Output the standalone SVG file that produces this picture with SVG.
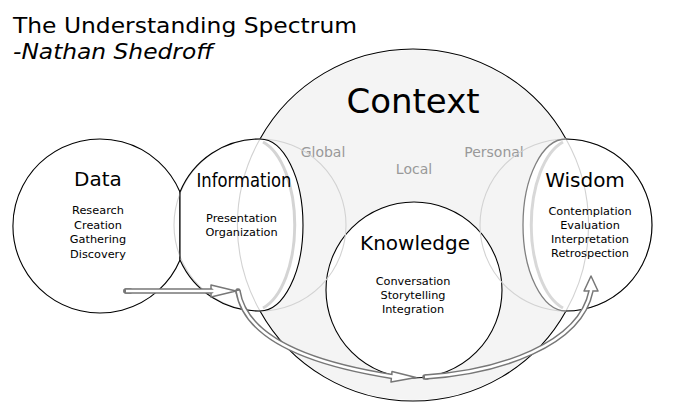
<svg xmlns="http://www.w3.org/2000/svg" width="676" height="412" viewBox="0 0 676 412">
<style>
text{font-family:"DejaVu Sans","Liberation Sans",sans-serif;fill:#000}
.title{font-size:22px}
.big{font-size:34px;text-anchor:middle}
.node{font-size:20px;text-anchor:middle}
.sub{font-size:11.3px;text-anchor:middle}
.scope{font-size:14px;text-anchor:middle;fill:#999}
.dark{fill:none;stroke:#000;stroke-width:1.1}
.faint{fill:none;stroke:#d2d2d2;stroke-width:1.1}
.white{fill:#fff;stroke:none}
.shaftO{fill:none;stroke:#777;stroke-width:5.5;stroke-linecap:round}
.shaftI{fill:none;stroke:#fff;stroke-width:2.5}
.head{fill:#fff;stroke:#777;stroke-width:1.5;stroke-linejoin:round}
</style>
<g id="title">
<text class="title" x="13" y="33" textLength="344" lengthAdjust="spacingAndGlyphs">The Understanding Spectrum</text>
<text class="title" x="13" y="59" font-style="italic" textLength="200" lengthAdjust="spacingAndGlyphs">-Nathan Shedroff</text>
</g>
<g id="context">
<circle cx="413" cy="225" r="175" fill="#f4f4f4"/>
<path class="dark" d="M260,139 A175,175 0 0 1 566,139"/>
<path class="dark" d="M566,311 A175,175 0 0 1 260,311"/>
<text class="big" x="413" y="113">Context</text>
<text class="scope" x="323" y="157">Global</text>
<text class="scope" x="414" y="174">Local</text>
<text class="scope" x="494" y="157">Personal</text>
</g>
<g id="knowledge">
<circle cx="414" cy="290" r="88" class="white"/>
<circle cx="414" cy="290" r="88" class="dark"/>
<text class="node" x="415" y="250" font-size="20.5">Knowledge</text>
<text class="sub" x="413" y="285">Conversation</text>
<text class="sub" x="413" y="299">Storytelling</text>
<text class="sub" x="413" y="313">Integration</text>
</g>
<g id="data">
<path class="white" d="M180,192 A87,87 0 1 0 180,260 Z"/>
<path class="dark" d="M180,192 A87,87 0 1 0 180,260 Z"/>
<text class="node" x="98" y="186">Data</text>
<text class="sub" x="98" y="214">Research</text>
<text class="sub" x="98" y="229">Creation</text>
<text class="sub" x="98" y="243">Gathering</text>
<text class="sub" x="98" y="258">Discovery</text>
</g>
<g id="information">
<path class="white" d="M180,192 A86,86 0 0 1 260,139 A43,86 0 0 1 260,311 A86,86 0 0 1 180,260 Z"/>
<circle class="faint" cx="260" cy="225" r="86"/>
<path class="faint" d="M260,139 A175,175 0 0 0 260,311"/>
<path d="M261,142 A43,86 0 0 1 261,308" fill="none" stroke="#d4d4d4" stroke-width="3" transform="translate(2,0)"/>
<path class="dark" d="M180,192 A86,86 0 0 1 260,139 A43,86 0 0 1 260,311 A86,86 0 0 1 180,260 Z"/>
<text class="node" x="244" y="187" textLength="95" lengthAdjust="spacingAndGlyphs" font-size="19">Information</text>
<text class="sub" x="241.5" y="222">Presentation</text>
<text class="sub" x="241.5" y="236">Organization</text>
</g>
<g id="wisdom">
<path class="white" d="M566,139 A86,86 0 0 1 566,311 A43,86 0 0 1 566,139 Z"/>
<circle class="faint" cx="566" cy="225" r="86"/>
<path class="faint" d="M566,139 A175,175 0 0 1 566,311"/>
<path d="M565,142 A43,86 0 0 0 565,308" fill="none" stroke="#d8d8d8" stroke-width="3" transform="translate(-2,0)"/>
<path class="dark" d="M566,139 A86,86 0 0 1 566,311"/>
<path d="M566,311 A43,86 0 0 1 566,139" fill="none" stroke="#808080" stroke-width="1.3"/>
<text class="node" x="585" y="187" font-size="21">Wisdom</text>
<text class="sub" x="590" y="215">Contemplation</text>
<text class="sub" x="590" y="229">Evaluation</text>
<text class="sub" x="590" y="243">Interpretation</text>
<text class="sub" x="590" y="257">Retrospection</text>
</g>
<g id="connectors">
<polygon class="head" points="211,285 236,291 211,297"/>
<path class="shaftO" d="M126,291 L211,291" stroke-linecap="butt"/>
<path class="shaftO" d="M126,291 L130,291"/>
<path class="shaftI" d="M126,291 L214,291"/>
<polygon class="head" points="392,371.5 416,377.5 391,382"/>
<path class="shaftO" d="M238,291 C245,335 300,362 392,376.5" style="stroke-linecap:butt"/>
<path class="shaftO" d="M238,291 L238.3,293"/>
<path class="shaftI" d="M238,291 C245,335 300,362 392,376.5 L395,377"/>
<polygon class="head" points="584,291 591,276 598,291"/>
<path class="shaftO" d="M425,377 C500,372 580,345 591,291" style="stroke-linecap:butt"/>
<path class="shaftO" d="M425,377 L427,376.9"/>
<path class="shaftI" d="M425,377 C500,372 580,345 591,291 L591.3,288"/>
</g>
</svg>
